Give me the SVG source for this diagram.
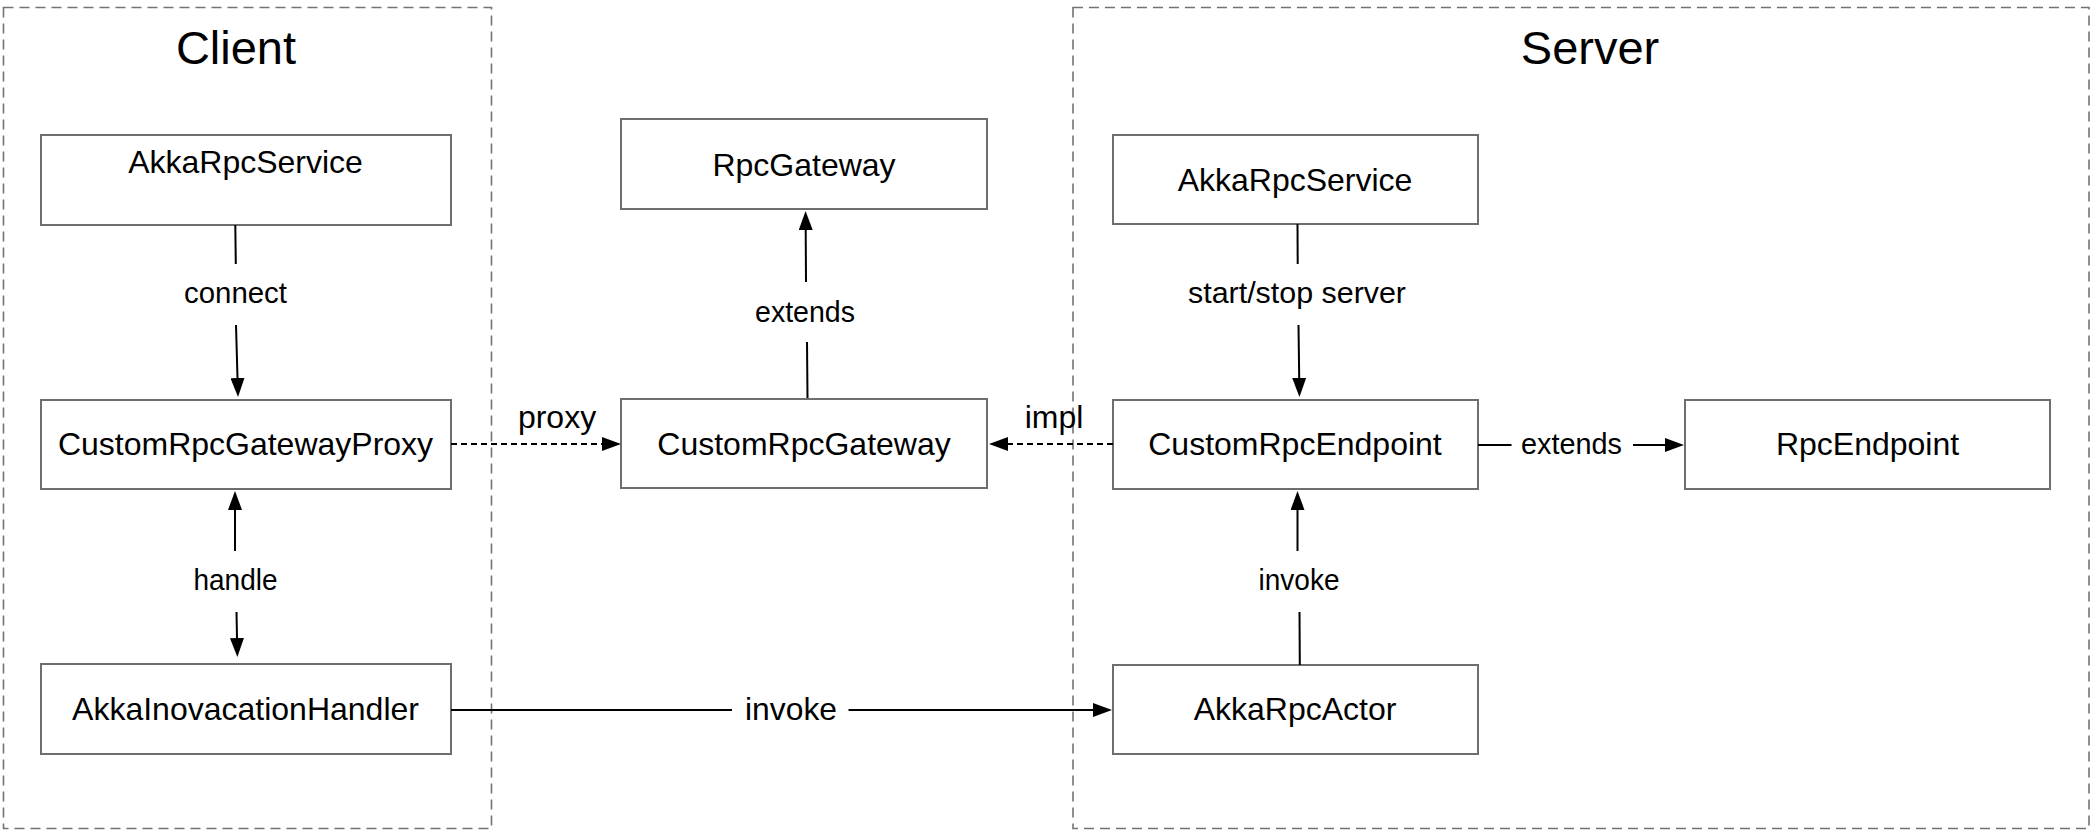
<svg xmlns="http://www.w3.org/2000/svg" width="2100" height="836" viewBox="0 0 2100 836">
<style>
.container{fill:none;stroke:#737373;stroke-width:1.6;stroke-dasharray:10 6}
.box{fill:#ffffff;stroke:#6e6e6e;stroke-width:2}
.title{font-family:"Liberation Sans",Arial,Helvetica,sans-serif;font-size:47px;fill:#000;text-anchor:middle}
.node{font-family:"Liberation Sans",Arial,Helvetica,sans-serif;font-size:32px;fill:#000;text-anchor:middle}
.lbl{font-family:"Liberation Sans",Arial,Helvetica,sans-serif;font-size:29px;fill:#000;text-anchor:middle}
.lblb{font-family:"Liberation Sans",Arial,Helvetica,sans-serif;font-size:32px;fill:#000;text-anchor:middle}
.edge{fill:none;stroke:#000;stroke-width:2}
.dash{stroke-dasharray:6 4}
</style>
<defs>
<marker id="arrow" viewBox="0 0 19 14" refX="0" refY="7" markerWidth="19" markerHeight="14" markerUnits="userSpaceOnUse" orient="auto">
<path d="M0,0 L19,7 L0,14 Z" fill="#000"/>
</marker>
</defs>
<rect width="2100" height="836" fill="#ffffff"/>

<g id="client-group">
<rect class="container" x="3.5" y="7.5" width="488" height="821"/>
<text class="title" x="236" y="64">Client</text>
</g>
<g id="server-group">
<rect class="container" x="1073" y="7.5" width="1016" height="821"/>
<text class="title" x="1590" y="64">Server</text>
</g>

<g id="client-akkarpcservice">
<rect class="box" x="41" y="135" width="410" height="90"/>
<text class="node" x="245.5" y="173">AkkaRpcService</text>
</g>
<g id="customrpcgatewayproxy">
<rect class="box" x="41" y="400" width="410" height="89"/>
<text class="node" x="245.5" y="455">CustomRpcGatewayProxy</text>
</g>
<g id="akkainovacationhandler">
<rect class="box" x="41" y="664" width="410" height="90"/>
<text class="node" x="245.5" y="720">AkkaInovacationHandler</text>
</g>
<g id="rpcgateway">
<rect class="box" x="621" y="119" width="366" height="90"/>
<text class="node" x="804" y="176">RpcGateway</text>
</g>
<g id="customrpcgateway">
<rect class="box" x="621" y="399" width="366" height="89"/>
<text class="node" x="804" y="455">CustomRpcGateway</text>
</g>
<g id="server-akkarpcservice">
<rect class="box" x="1113" y="135" width="365" height="89"/>
<text class="node" x="1295" y="191">AkkaRpcService</text>
</g>
<g id="customrpcendpoint">
<rect class="box" x="1113" y="400" width="365" height="89"/>
<text class="node" x="1295" y="455">CustomRpcEndpoint</text>
</g>
<g id="akkarpcactor">
<rect class="box" x="1113" y="665" width="365" height="89"/>
<text class="node" x="1295" y="720">AkkaRpcActor</text>
</g>
<g id="rpcendpoint">
<rect class="box" x="1685" y="400" width="365" height="89"/>
<text class="node" x="1867.5" y="455">RpcEndpoint</text>
</g>

<g id="connectors">
<!-- connect -->
<path class="edge" d="M235.3,225 L235.8,264"/>
<path class="edge" d="M236,325 L237.5,378" marker-end="url(#arrow)"/>
<text class="lbl" x="235.5" y="303" textLength="103" lengthAdjust="spacingAndGlyphs">connect</text>
<!-- handle -->
<path class="edge" d="M235,551 L235,510" marker-end="url(#arrow)"/>
<path class="edge" d="M236.5,612 L237,638" marker-end="url(#arrow)"/>
<text class="lbl" x="235.5" y="590" textLength="84" lengthAdjust="spacingAndGlyphs">handle</text>
<!-- proxy -->
<path class="edge dash" d="M451,444 L602,444" marker-end="url(#arrow)"/>
<text class="lblb" x="557" y="428">proxy</text>
<!-- extends (gateway) -->
<path class="edge" d="M807.5,398 L807,342"/>
<path class="edge" d="M806,282 L805.7,230" marker-end="url(#arrow)"/>
<text class="lbl" x="805" y="321.5" textLength="100" lengthAdjust="spacingAndGlyphs">extends</text>
<!-- impl -->
<path class="edge dash" d="M1113,444 L1008,444" marker-end="url(#arrow)"/>
<text class="lblb" x="1054" y="428">impl</text>
<!-- start/stop server -->
<path class="edge" d="M1297.5,224 L1297.7,264"/>
<path class="edge" d="M1298.5,325 L1299.2,378" marker-end="url(#arrow)"/>
<text class="lbl" x="1297" y="303" textLength="218" lengthAdjust="spacingAndGlyphs">start/stop server</text>
<!-- extends (endpoint) -->
<path class="edge" d="M1478,445 L1511.5,445"/>
<path class="edge" d="M1633,445 L1665,445" marker-end="url(#arrow)"/>
<text class="lbl" x="1571.5" y="454" textLength="101" lengthAdjust="spacingAndGlyphs">extends</text>
<!-- invoke (actor to endpoint) -->
<path class="edge" d="M1299.8,665 L1299.5,612"/>
<path class="edge" d="M1297.5,551 L1297.5,510" marker-end="url(#arrow)"/>
<text class="lbl" x="1299" y="590" textLength="81" lengthAdjust="spacingAndGlyphs">invoke</text>
<!-- invoke (handler to actor) -->
<path class="edge" d="M451,710 L732,710"/>
<path class="edge" d="M848.5,710 L1093,710" marker-end="url(#arrow)"/>
<text class="lblb" x="791" y="720" textLength="92" lengthAdjust="spacingAndGlyphs">invoke</text>
</g>
</svg>
